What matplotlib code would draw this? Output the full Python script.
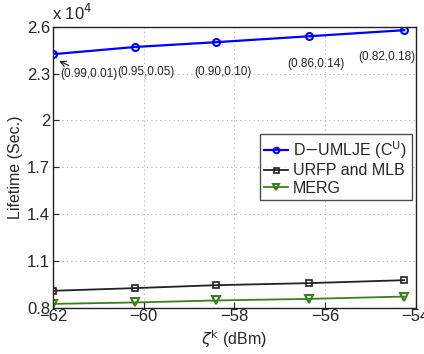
import matplotlib
matplotlib.use("Agg")
import matplotlib.pyplot as plt

zeta = [-62.0, -60.2, -58.4, -56.35, -54.25]
dumlje = [2.425, 2.471, 2.502, 2.540, 2.579]
urfp = [0.908, 0.925, 0.944, 0.957, 0.976]
merg = [0.824, 0.833, 0.846, 0.856, 0.871]
pair_labels = ["(0.99,0.01)", "(0.95,0.05)", "(0.90,0.10)", "(0.86,0.14)", "(0.82,0.18)"]
label_pos = [(-61.2, 2.30), (-59.94, 2.313), (-58.26, 2.313), (-56.19, 2.364), (-54.63, 2.409)]
xticks = [-62, -60, -58, -56, -54]
yticks = [0.8, 1.1, 1.4, 1.7, 2.0, 2.3, 2.6]
ytick_labels = ["0.8", "1.1", "1.4", "1.7", "2", "2.3", "2.6"]

plt.rcParams['font.family'] = ['Liberation Sans', 'DejaVu Sans']
txt = '#262626'

fig = plt.figure(figsize=(4.24, 3.54), dpi=100)
ax = fig.add_axes([0.125, 0.131, 0.855, 0.793])

ax.plot(zeta, dumlje, color='#0000ff', lw=1.6, marker='o', ms=5, mfc='none', mew=1.5,
        label=r'D$-$UMLJE (C$^{\mathrm{U}}$)')
ax.plot(zeta, urfp, color='#222222', lw=1.3, marker='s', ms=4.5, mfc='none', mew=1.2,
        label='URFP and MLB')
ax.plot(zeta, merg, color='#3c7f1c', lw=1.3, marker='v', ms=5.5, mfc='none', mew=1.5,
        label='MERG')

for lab, (x, y) in zip(pair_labels, label_pos):
    ax.text(x, y, lab, fontsize=8.5, color=txt, ha='center', va='center')
ax.annotate('', xy=(-61.92, 2.39), xytext=(-61.6, 2.345),
            arrowprops=dict(arrowstyle='->', color=txt, lw=0.9))

ax.set_xlim(-62, -54)
ax.set_ylim(0.8, 2.6)
ax.set_xticks(xticks)
ax.set_xticklabels([f"\u2212{abs(t)}" for t in xticks])
ax.set_yticks(yticks)
ax.set_yticklabels(ytick_labels)
ax.tick_params(direction='in', labelsize=12, colors=txt, length=4, pad=2)
ax.tick_params(axis='x', pad=1)
ax.grid(True, linestyle=(0, (1, 3)), color='#aaaaaa', lw=0.8)
for s in ax.spines.values():
    s.set_color('#222222')
    s.set_linewidth(1.0)

ax.set_xlabel(r'$\zeta^{\mathrm{k}}$ (dBm)', fontsize=11.5, color=txt, labelpad=3)
ax.set_ylabel('Lifetime (Sec.)', fontsize=11.5, color=txt, labelpad=3)
fig.text(0.122, 0.935, r'x 10$^{4}$', fontsize=12, color=txt, ha='left', va='bottom')

leg = ax.legend(loc='center right', bbox_to_anchor=(0.99, 0.5), fontsize=11.5, frameon=True,
                fancybox=False, edgecolor='#222222', handlelength=1.5, handletextpad=0.3,
                borderpad=0.3, labelspacing=0.15, borderaxespad=0.0, markerscale=0.8)
leg.get_frame().set_linewidth(1.0)
for t in leg.get_texts():
    t.set_color(txt)

fig.savefig('out.png', dpi=100)
